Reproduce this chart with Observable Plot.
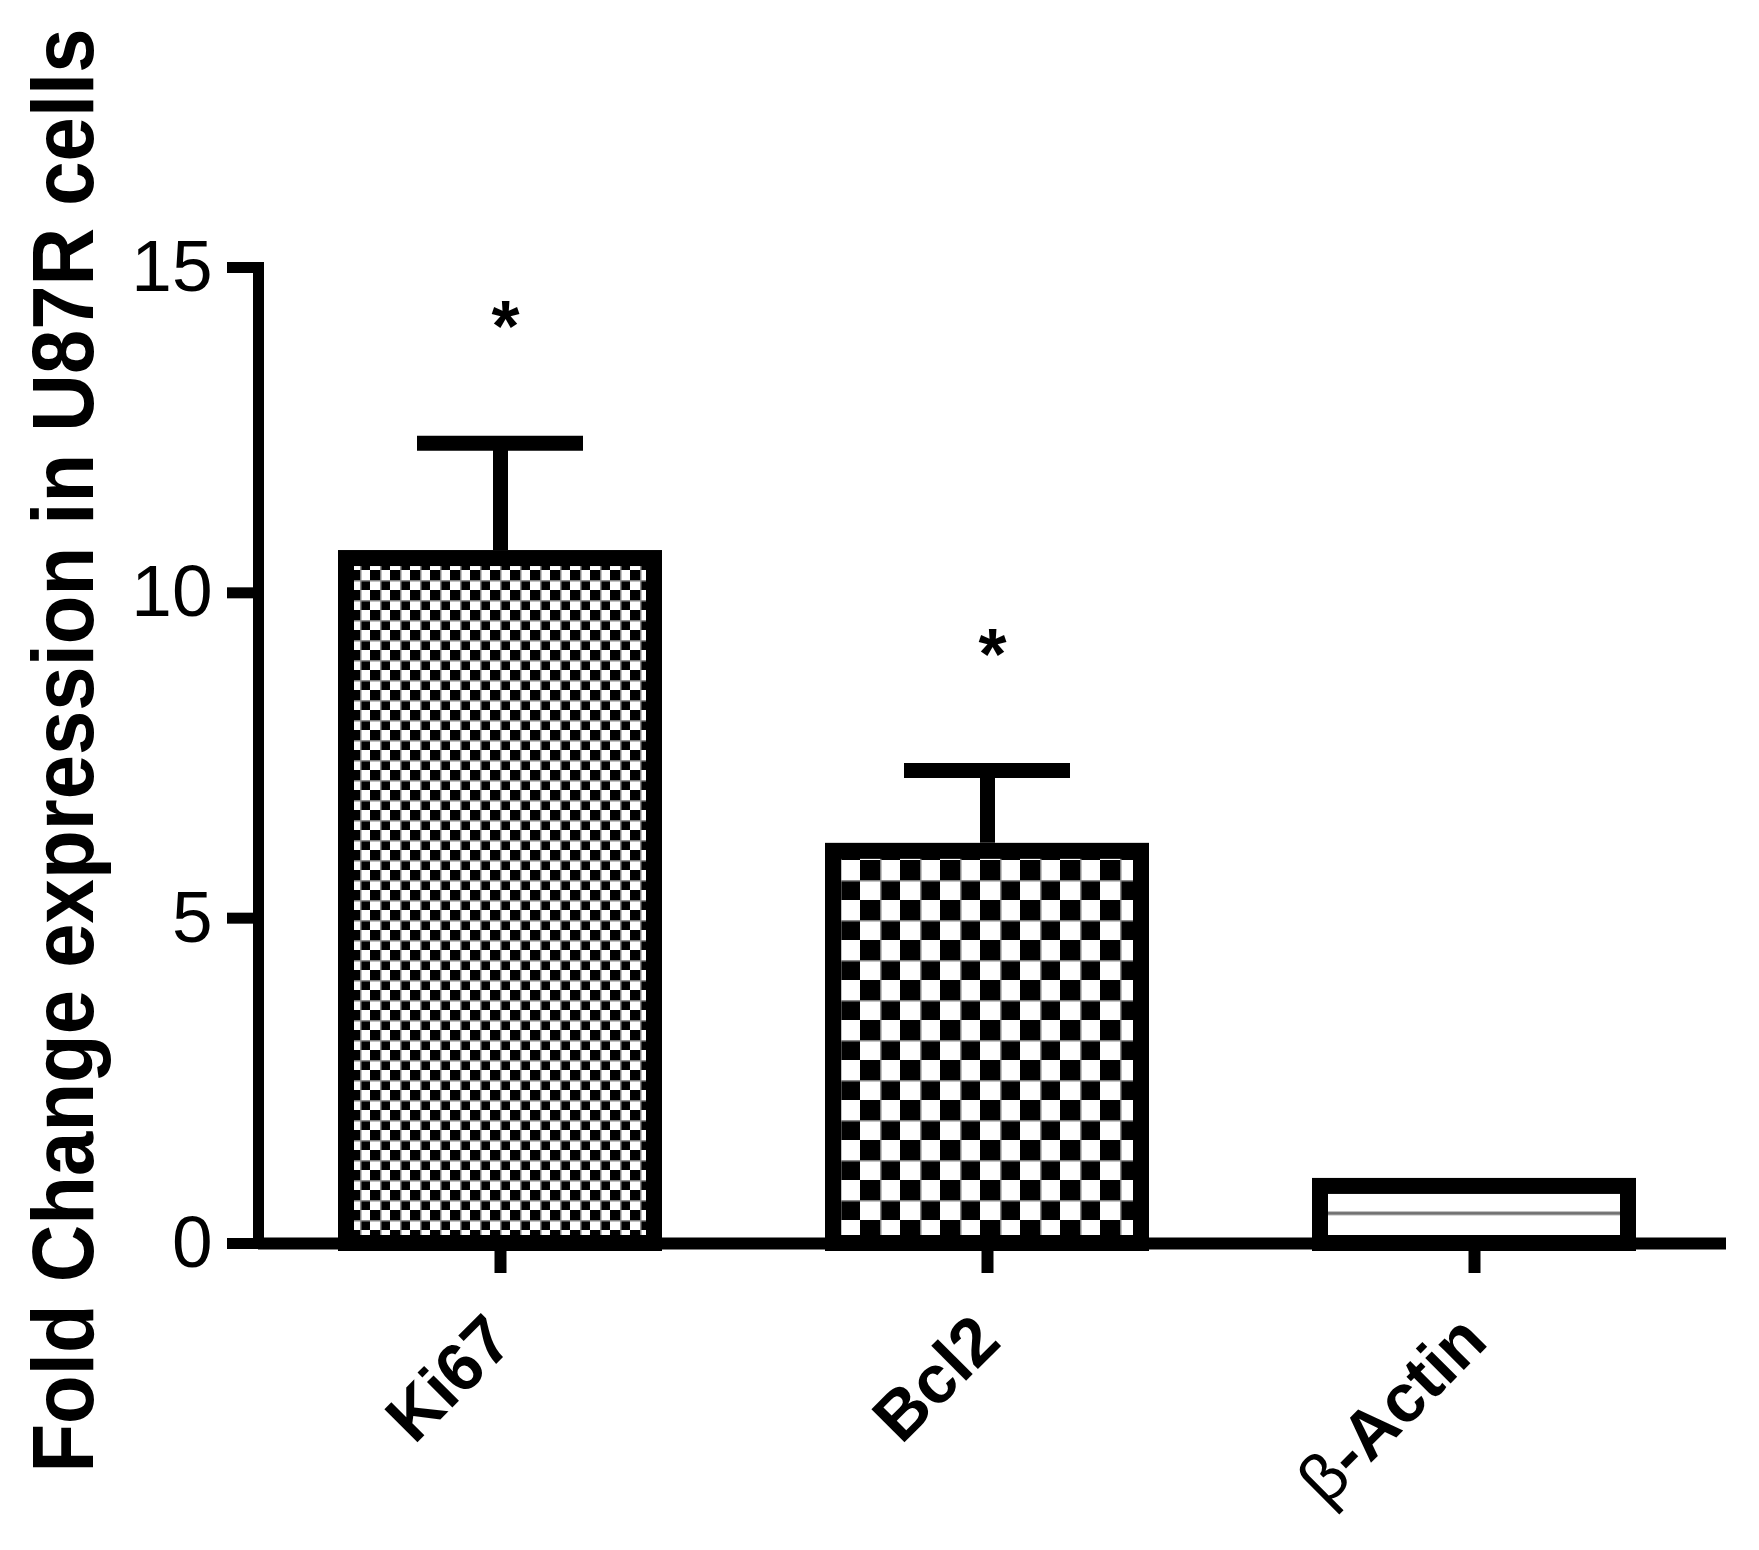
<!DOCTYPE html>
<html><head><meta charset="utf-8">
<script src="https://cdn.jsdelivr.net/npm/d3@7"></script>
<script src="https://cdn.jsdelivr.net/npm/@observablehq/plot@0.6"></script>
<style>html,body{margin:0;padding:0;background:#fff}#chart svg{display:block}</style>
</head><body><div id="chart"></div>
<script>
const genes = ["Ki67", "Bcl2", "β-Actin"];
const means = [10.65, 6.15, 1.0];
const sems = [1.65, 1.12, 0];
const significance = ["*", "*", ""];
const yTicks = [0, 5, 10, 15];
const yTitle = "Fold Change expression in U87R cells";

const data = genes.map((g, i) => ({gene: g, mean: means[i], sem: sems[i], sig: significance[i], idx: i}));
const withErr = data.filter(d => d.sem > 0);
const withSig = data.filter(d => d.sig);

const chart = Plot.plot({
  width: 1759, height: 1550,
  marginTop: 267, marginBottom: 307, marginLeft: 258, marginRight: 33,
  style: {background: "#fff", color: "#000", fontFamily: "'Liberation Sans', Arial, sans-serif"},
  x: {domain: genes, range: [255.25, 1717.75], paddingInner: 0.3354, paddingOuter: 0.1677},
  y: {domain: [0, 15]},
  color: {type: "identity"},
  marks: [
    Plot.barY(data, {x: "gene", y: "mean", fill: d => `url(#pat${d.idx})`, stroke: "#000", strokeWidth: 16,
      insetTop: 8, insetLeft: 8, insetRight: 8, insetBottom: 0}),
    Plot.ruleX(withErr, {x: "gene", y1: "mean", y2: d => d.mean + d.sem, stroke: "#000", strokeWidth: 15}),
    Plot.tickY(withErr, {x: "gene", y: d => d.mean + d.sem, stroke: "#000", strokeWidth: 15, insetLeft: 79, insetRight: 79}),
    Plot.text(withSig, {x: "gene", y: d => d.mean + d.sem + 1.95, text: "sig", fontSize: 72, fontWeight: "bold", dx: 5, dy: 12, fill: "#000"}),
    Plot.frame({anchor: "left", stroke: "#000", strokeWidth: 11, strokeLinecap: "square"}),
    Plot.ruleY([0], {stroke: "#000", strokeWidth: 12}),
    Plot.axisY({ticks: yTicks, tickSize: 31, strokeWidth: 11, tickPadding: 15, fontSize: 73, tickFormat: d => String(d), label: null}),
    Plot.axisX({tickSize: 30, strokeWidth: 12, tickRotate: -45, fontSize: 68, fontWeight: "bold", tickPadding: 55, label: null}),
    Plot.text([yTitle], {frameAnchor: "left", textAnchor: "middle", lineAnchor: "middle", rotate: -90, dx: -194, dy: -5,
      fontSize: 88, fontWeight: "bold", fill: "#000"})
  ]
});

const ns = "http://www.w3.org/2000/svg";
const defs = document.createElementNS(ns, "defs");
defs.innerHTML = `
<pattern id="pat0" patternUnits="userSpaceOnUse" width="20" height="20">
  <rect width="20" height="20" fill="#fff"/>
  <rect width="10" height="10" fill="#000"/>
  <rect x="10" y="10" width="10" height="10" fill="#000"/>
  <path d="M0 0.75H20M0.75 0V20" stroke="#888" stroke-width="1.5"/>
</pattern>
<pattern id="pat1" patternUnits="userSpaceOnUse" width="40" height="40">
  <rect width="40" height="40" fill="#fff"/>
  <rect width="20" height="20" fill="#000"/>
  <rect x="20" y="20" width="20" height="20" fill="#000"/>
  <path d="M0 0.75H40M0.75 0V40" stroke="#888" stroke-width="1.5"/>
</pattern>
<pattern id="pat2" patternUnits="objectBoundingBox" patternContentUnits="objectBoundingBox" width="1" height="1">
  <rect width="1" height="1" fill="#fff"/>
  <rect y="0.45" width="1" height="0.06" fill="#707070"/>
</pattern>`;
chart.insertBefore(defs, chart.firstChild);

chart.querySelectorAll("text").forEach(t => {
  if (t.textContent === yTitle) {
    const tr = t.getAttribute("transform") || "";
    t.setAttribute("transform", tr + " scale(0.906,1)");
  }
  if (t.textContent === "β-Actin") {
    t.textContent = "";
    const a = document.createElementNS(ns, "tspan");
    a.setAttribute("font-weight", "normal");
    a.textContent = "β";
    const b = document.createElementNS(ns, "tspan");
    b.textContent = "-Actin";
    t.appendChild(a); t.appendChild(b);
  }
});

document.getElementById("chart").appendChild(chart);
</script>
</body></html>
